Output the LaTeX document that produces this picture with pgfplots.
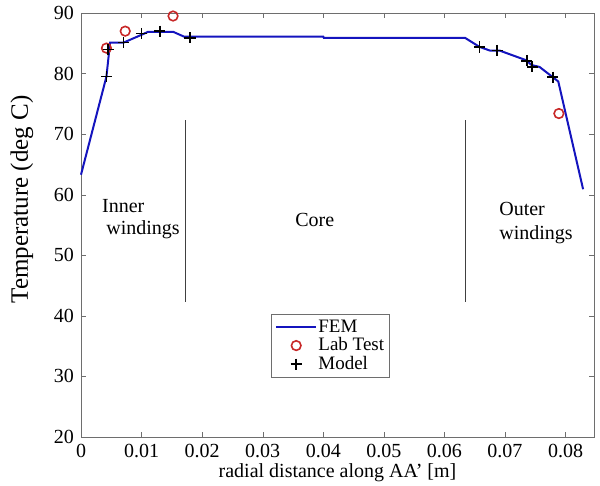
\documentclass[border=0pt]{standalone}
\usepackage{fontspec}
\setmainfont{Liberation Serif}
\usepackage{pgfplots}
\pgfplotsset{compat=1.18}

\definecolor{femblue}{RGB}{20,20,190}
\definecolor{labred}{RGB}{200,40,40}
\definecolor{axgray}{RGB}{110,110,110}

\begin{document}
\begin{tikzpicture}
\begin{axis}[
  scale only axis,
  width=256.5pt, height=212pt,
  xmin=0, xmax=0.0847,
  ymin=20, ymax=90,
  scaled x ticks=false,
  xtick={0,0.01,0.02,0.03,0.04,0.05,0.06,0.07,0.08},
  xticklabels={\textrm{0},\textrm{0.01},\textrm{0.02},\textrm{0.03},\textrm{0.04},\textrm{0.05},\textrm{0.06},\textrm{0.07},\textrm{0.08}},
  ytick={20,30,40,50,60,70,80,90},
  yticklabels={\textrm{20},\textrm{30},\textrm{40},\textrm{50},\textrm{60},\textrm{70},\textrm{80},\textrm{90}},
  tick label style={font=\rmfamily\fontsize{10}{12}\selectfont},
  axis line style={axgray},
  major tick style={axgray},
  major tick length=2.5pt,
  clip=false,
  xlabel={radial distance along AA’ [m]},
  ylabel={Temperature (deg C)},
  xlabel style={font=\fontsize{10}{12}\selectfont, at={(axis description cs:0.5,-0.085)}, anchor=center},
  ylabel style={font=\fontsize{12.5}{14}\selectfont, at={(axis description cs:-0.115,0.56)}, anchor=center},
  legend image code/.code={\draw[mark repeat=2,mark phase=2,#1] plot coordinates {(0pt,0pt) (10pt,0pt) (20pt,0pt)};},
  legend style={at={(rel axis cs:0.37,0.29)}, anchor=north west,
    font=\fontsize{9.5}{9.5}\selectfont, draw=axgray, inner sep=2pt,
    row sep=0pt, nodes={inner sep=0.6pt}},
  legend cell align=left,
]
% FEM
\addplot[femblue, line width=1pt, no marks] coordinates {
  (0.0000,63.3) (0.0042,79.5) (0.0048,85.1) (0.0070,85.1) (0.0100,86.4)
  (0.0111,86.9) (0.0152,86.9) (0.0170,86.1) (0.0400,86.1) (0.0401,85.9)
  (0.0634,85.9) (0.0658,84.4) (0.0675,83.8) (0.0691,83.8) (0.0735,82.2)
  (0.0744,81.4) (0.0757,81.1) (0.0779,79.4) (0.0788,78.7) (0.0829,60.9)
};
% Lab Test
\addplot[only marks, mark=o, mark size=2.4pt, labred, line width=0.8pt] coordinates {
  (0.0042,84.2) (0.0073,87.0) (0.0152,89.5) (0.0789,73.4)
};
% Model
\addplot[only marks, mark=+, mark size=2.8pt, black, line width=0.8pt] coordinates {
  (0.00424,79.5) (0.0045,84.0) (0.0070,85.1) (0.0100,86.6) (0.0130,87.0)
  (0.0180,85.9) (0.0658,84.4) (0.0687,83.8) (0.0736,82.1) (0.0745,81.1)
  (0.0779,79.4)
};
\legend{FEM, Lab Test, Model}
% region separators
\addplot[black!75, line width=0.5pt, forget plot] coordinates {(0.0172,72.3) (0.0172,42.3)};
\addplot[black!75, line width=0.5pt, forget plot] coordinates {(0.0634,72.3) (0.0634,42.3)};
\node[anchor=base west, inner sep=0pt, font=\fontsize{10}{12}\selectfont] at (axis cs:0.00342,57.0) {Inner};
\node[anchor=base west, inner sep=0pt, font=\fontsize{10}{12}\selectfont] at (axis cs:0.00413,53.5) {windings};
\node[anchor=base, inner sep=0pt, font=\fontsize{10}{12}\selectfont] at (axis cs:0.0386,54.7) {Core};
\node[anchor=base west, inner sep=0pt, font=\fontsize{10}{12}\selectfont] at (axis cs:0.0690,56.5) {Outer};
\node[anchor=base west, inner sep=0pt, font=\fontsize{10}{12}\selectfont] at (axis cs:0.0690,52.6) {windings};
\coordinate (A) at (rel axis cs:0,0);
\coordinate (B) at (rel axis cs:1,1);
\end{axis}
\pgfresetboundingbox
\path ([shift={(-40.5pt,-24pt)}]A) rectangle ([shift={(3pt,6.5pt)}]B);
\end{tikzpicture}
\end{document}
